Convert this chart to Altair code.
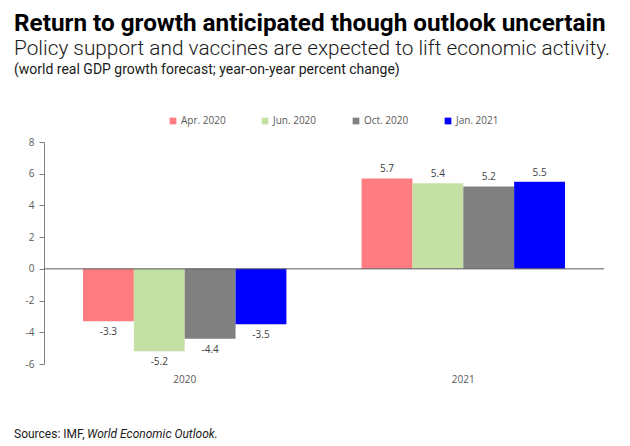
import altair as alt
import pandas as pd

years = ["2020", "2021"]
series = ["Apr. 2020", "Jun. 2020", "Oct. 2020", "Jan. 2021"]
values_2020 = [-3.3, -5.2, -4.4, -3.5]
values_2021 = [5.7, 5.4, 5.2, 5.5]
colors = ["#FF7C80", "#C5E0A4", "#808080", "#0000FF"]
y_ticks = [-6, -4, -2, 0, 2, 4, 6, 8]

rows = []
for yr, vals in zip(years, [values_2020, values_2021]):
    for s, v in zip(series, vals):
        rows.append({"year": yr, "series": s, "value": v, "label": f"{v:.1f}"})
df = pd.DataFrame(rows)

y_axis = alt.Axis(title=None, values=y_ticks, grid=False, tickSize=5,
                  tickColor="#808080", domainColor="#808080",
                  labelOverlap=False, labelFlush=False,
                  labelExpr="'' + datum.value",
                  labelFont="Open Sans", labelFontSize=10, labelColor="#595959",
                  labelPadding=5)
y_scale = alt.Scale(domain=[-6, 8], nice=False, zero=False)

base = alt.Chart(df).encode(
    x=alt.X("year:N", sort=years,
            scale=alt.Scale(paddingInner=0.27, paddingOuter=0.14),
            axis=alt.Axis(title=None, labelAngle=0, ticks=False, domain=False,
                          labelPadding=10, labelFont="Open Sans", labelFontSize=10,
                          labelColor="#595959")),
    xOffset=alt.XOffset("series:N", sort=series, scale=alt.Scale(paddingInner=0, paddingOuter=0)),
    y=alt.Y("value:Q", scale=y_scale, axis=y_axis),
)

bars = base.mark_bar().encode(
    color=alt.Color("series:N", sort=series,
                    scale=alt.Scale(domain=series, range=colors),
                    legend=alt.Legend(title=None, orient="none", direction="horizontal",
                                      legendX=124, legendY=-26, symbolType="square",
                                      symbolSize=45, symbolStrokeWidth=0,
                                      labelFont="Open Sans", labelFontSize=10,
                                      labelColor="#595959", columnPadding=34,
                                      labelOffset=3)),
)

pos_labels = base.transform_filter("datum.value >= 0").mark_text(
    baseline="bottom", dy=-4, font="Open Sans", fontSize=10, color="#404040"
).encode(text="label:N")

neg_labels = base.transform_filter("datum.value < 0").mark_text(
    baseline="top", dy=6, font="Open Sans", fontSize=10, color="#404040"
).encode(text="label:N")

zero_rule = alt.Chart(pd.DataFrame({"z": [0]})).mark_rule(color="#595959", strokeWidth=1).encode(
    y=alt.Y("z:Q", scale=y_scale, axis=y_axis)
)

note = alt.Chart(pd.DataFrame({"t": ["(world real GDP growth forecast; year-on-year percent change)"]})).mark_text(
    align="left", baseline="alphabetic", font="Roboto", fontSize=14, color="#1a1a1a"
).encode(x=alt.value(-30), y=alt.value(-68), text="t:N")

src1 = alt.Chart(pd.DataFrame({"t": ["Sources: IMF, "]})).mark_text(
    align="left", baseline="alphabetic", font="Roboto", fontSize=12, color="#1a1a1a"
).encode(x=alt.value(-30), y=alt.value(296), text="t:N")

src2 = alt.Chart(pd.DataFrame({"t": ["World Economic Outlook."]})).mark_text(
    align="left", baseline="alphabetic", font="Roboto", fontSize=12, fontStyle="italic",
    color="#1a1a1a"
).encode(x=alt.value(43), y=alt.value(296), text="t:N")

chart = alt.layer(bars, zero_rule, pos_labels, neg_labels, note, src1, src2).properties(
    width=560, height=222,
    autosize=alt.AutoSizeParams(type="none"),
    padding={"left": 44, "top": 142, "right": 26, "bottom": 82},
    title=alt.TitleParams(
        text="Return to growth anticipated though outlook uncertain",
        subtitle=["Policy support and vaccines are expected to lift economic activity."],
        anchor="start", frame="group", dx=-30, offset=4,
        font="Roboto", fontSize=24.3, fontWeight="bold", color="#000000",
        subtitleFont="Roboto", subtitleFontSize=20.8, subtitleFontWeight=300,
        subtitleColor="#1a1a1a", subtitlePadding=3,
    ),
).configure_view(stroke=None)

chart.save("out.html", embed_options={"renderer": "svg", "actions": False})
